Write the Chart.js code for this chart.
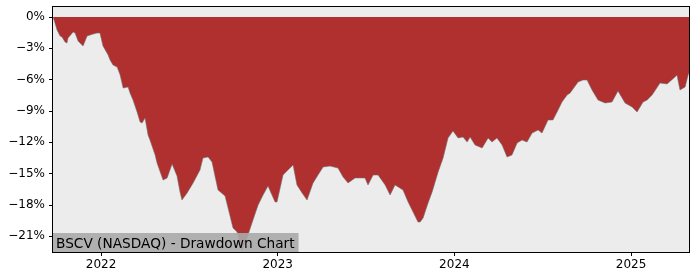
<!DOCTYPE html>
<html>
<head>
<meta charset="utf-8">
<script src="https://cdn.jsdelivr.net/npm/chart.js@4/dist/chart.umd.min.js"></script>
<style>
html,body{margin:0;padding:0;background:#fff;}
#wrap{width:700px;height:280px;position:relative;}
</style>
</head>
<body>
<div id="wrap"><canvas id="c" width="700" height="280"></canvas></div>
<script>
// Time as fractional year
const years = [2021.728,2021.734,2021.751,2021.768,2021.779,2021.796,2021.807,2021.813,2021.842,2021.853,2021.870,2021.881,2021.898,2021.921,2021.955,2021.977,2021.994,2022.011,2022.040,2022.051,2022.068,2022.091,2022.108,2022.125,2022.153,2022.164,2022.181,2022.204,2022.221,2022.232,2022.249,2022.266,2022.277,2022.306,2022.317,2022.345,2022.351,2022.374,2022.402,2022.430,2022.447,2022.458,2022.487,2022.521,2022.560,2022.577,2022.606,2022.628,2022.662,2022.702,2022.719,2022.747,2022.770,2022.798,2022.826,2022.860,2022.889,2022.917,2022.945,2022.985,2022.996,2023.030,2023.058,2023.087,2023.109,2023.138,2023.166,2023.200,2023.228,2023.257,2023.296,2023.341,2023.370,2023.398,2023.438,2023.494,2023.511,2023.540,2023.568,2023.608,2023.636,2023.664,2023.709,2023.738,2023.766,2023.794,2023.806,2023.823,2023.834,2023.851,2023.874,2023.908,2023.936,2023.964,2023.992,2024.021,2024.049,2024.072,2024.089,2024.117,2024.157,2024.191,2024.213,2024.241,2024.270,2024.298,2024.326,2024.355,2024.383,2024.411,2024.440,2024.474,2024.496,2024.530,2024.558,2024.587,2024.609,2024.638,2024.655,2024.700,2024.728,2024.751,2024.779,2024.813,2024.853,2024.892,2024.926,2024.966,2025.006,2025.034,2025.068,2025.091,2025.119,2025.164,2025.204,2025.249,2025.260,2025.277,2025.306,2025.323,2025.328];
const drawdown = [0,-0.29,-1.24,-1.82,-1.91,-2.39,-2.49,-2.01,-1.44,-1.53,-2.30,-2.49,-2.78,-1.82,-1.63,-1.53,-1.53,-2.78,-3.64,-4.12,-4.60,-4.79,-5.55,-6.80,-6.70,-7.28,-7.95,-9.10,-10.05,-10.15,-9.67,-11.30,-11.78,-13.21,-13.98,-15.32,-15.61,-15.41,-14.07,-15.22,-16.75,-17.52,-16.85,-15.89,-14.65,-13.50,-13.40,-13.88,-16.56,-17.14,-18.29,-20.20,-20.58,-22.31,-21.16,-19.43,-18.00,-17.04,-16.18,-17.71,-17.71,-15.13,-14.65,-14.17,-16.08,-16.85,-17.52,-15.89,-15.13,-14.36,-14.27,-14.46,-15.32,-15.89,-15.41,-15.41,-16.08,-15.13,-15.13,-16.08,-17.04,-16.08,-16.56,-17.71,-18.67,-19.63,-19.63,-19.24,-18.67,-17.81,-16.75,-14.84,-13.50,-11.58,-10.91,-11.58,-11.49,-11.97,-11.49,-12.25,-12.54,-11.58,-11.97,-11.58,-12.25,-13.40,-13.21,-12.06,-11.78,-11.97,-11.11,-10.82,-11.11,-9.86,-9.86,-8.90,-8.14,-7.47,-7.28,-6.22,-6.03,-6.03,-6.99,-7.95,-8.23,-8.14,-7.08,-8.23,-8.62,-9.10,-8.14,-7.95,-7.47,-6.32,-6.41,-5.74,-5.55,-6.99,-6.70,-5.55,-5.36];
const yTicks = [0,-3,-6,-9,-12,-15,-18,-21];
const xTicks = [2022,2023,2024,2025];
const titleText = 'BSCV (NASDAQ) - Drawdown Chart';

const FONT = 'DejaVu Sans';

const frame = {
  id:'frame',
  beforeDatasetsDraw(chart){
    const a = chart.chartArea, ctx = chart.ctx;
    ctx.save();
    ctx.fillStyle = '#ececec';
    ctx.fillRect(a.left, a.top, a.right-a.left, a.bottom-a.top);
    ctx.restore();
  },
  afterDraw(chart){
    const a = chart.chartArea, ctx = chart.ctx;
    ctx.save();
    // title box
    ctx.font = '13.7px "' + FONT + '"';
    const w = ctx.measureText(titleText).width;
    ctx.fillStyle = 'rgba(170,170,170,0.9)';
    ctx.fillRect(a.left, a.bottom-19, w+7, 19);
    ctx.fillStyle = '#000';
    ctx.textBaseline = 'alphabetic';
    ctx.fillText(titleText, a.left+3, a.bottom-4);
    // frame
    ctx.strokeStyle = '#000';
    ctx.lineWidth = 1;
    ctx.strokeRect(Math.round(a.left)-0.5, Math.round(a.top)-0.5, Math.round(a.right-a.left)+1, Math.round(a.bottom-a.top)+1);
    ctx.restore();
  }
};

new Chart(document.getElementById('c'), {
  type:'line',
  data:{
    datasets:[{
      data: years.map((t,i)=>({x:t,y:drawdown[i]})),
      fill:{value:0},
      backgroundColor:'#b03030',
      borderColor:'rgba(110,110,110,0.7)',
      borderWidth:0.8,
      pointRadius:0,
      tension:0
    }]
  },
  options:{
    responsive:false,
    animation:false,
    events:[],
    layout:{padding:{left:0,right:11,top:7,bottom:0}},
    plugins:{legend:{display:false},tooltip:{enabled:false}},
    scales:{
      x:{
        type:'linear',
        min:2021.728, max:2025.328,
        afterBuildTicks(s){ s.ticks = xTicks.map(v=>({value:v})); },
        afterFit(s){ s.height = 28; s.paddingLeft = 0; s.paddingRight = 0; },
        ticks:{font:{family:FONT,size:12},color:'#000',padding:2,maxRotation:0,callback:v=>String(v)},
        grid:{display:true,drawOnChartArea:false,drawTicks:true,tickLength:4,color:'#000'},
        border:{display:true,color:'#000'}
      },
      y:{
        min:-22.5, max:0.96,
        afterBuildTicks(s){ s.ticks = yTicks.map(v=>({value:v})); },
        afterFit(s){ s.width = 53; s.paddingTop = 0; s.paddingBottom = 0; },
        ticks:{font:{family:FONT,size:12},color:'#000',padding:4,callback:v=>(v<0?'\u2212'+Math.abs(v):String(v))+'%'},
        grid:{display:true,drawOnChartArea:false,drawTicks:true,tickLength:4,color:'#000'},
        border:{display:true,color:'#000'}
      }
    }
  },
  plugins:[frame]
});
</script>
</body>
</html>
